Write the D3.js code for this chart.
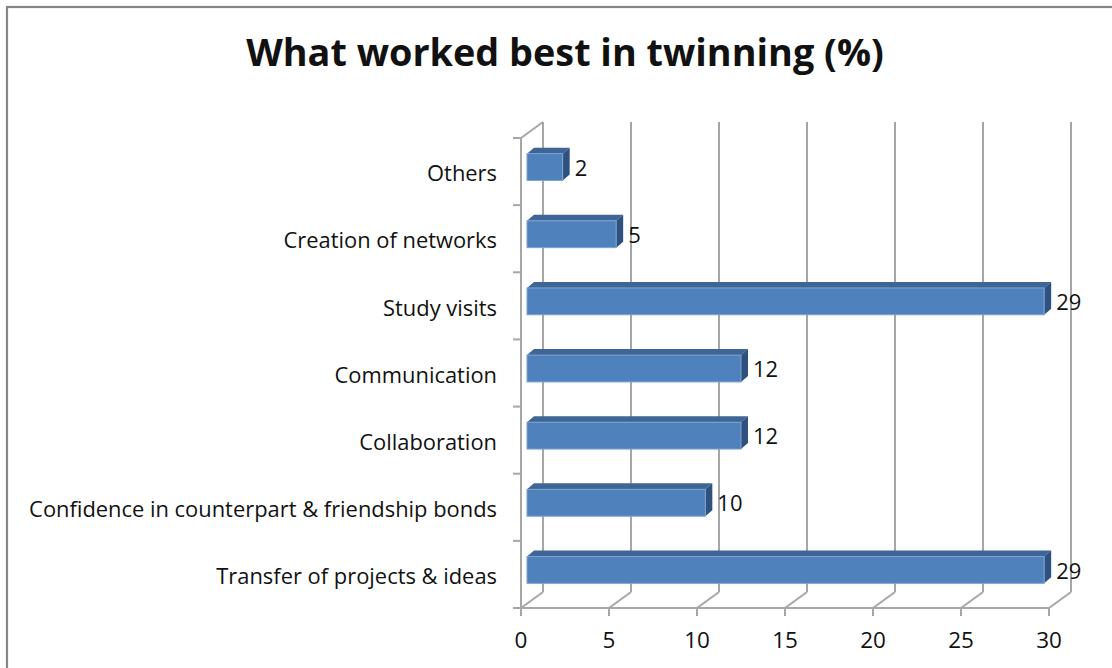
<!DOCTYPE html>
<html>
<head>
<meta charset="utf-8">
<script src="https://cdn.jsdelivr.net/npm/d3@7"></script>
<style>
  html, body { margin: 0; padding: 0; background: #fff; }
  svg { display: block; }
  text { font-family: "Open Sans", "DejaVu Sans", sans-serif; fill: #111; }
</style>
</head>
<body>
<svg id="chart" width="1112" height="668"></svg>
<script>
// Chart data: categories listed bottom to top, as shown on the axis
const categories = [
  "Transfer of projects & ideas",
  "Confidence in counterpart & friendship bonds",
  "Collaboration",
  "Communication",
  "Study visits",
  "Creation of networks",
  "Others"
];
const values = [29, 10, 12, 12, 29, 5, 2];
const tickValues = [0, 5, 10, 15, 20, 25, 30];
const title = "What worked best in twinning (%)";

const svg = d3.select("#chart");

// outer frame
svg.append("rect")
  .attr("x", 7).attr("y", 7)
  .attr("width", 1130).attr("height", 700)
  .attr("fill", "#fff")
  .attr("stroke", "#868686")
  .attr("stroke-width", 2.2);

// title
svg.append("text")
  .attr("x", 565).attr("y", 66)
  .attr("text-anchor", "middle")
  .style("font-size", "37.8px")
  .style("font-weight", "700")
  .text(title);

// 3D plot geometry: front plane and depth offset to the back wall
const plotTop = 138, plotBottom = 608;
const depth = { dx: 22, dy: -16 };

const x = d3.scaleLinear().domain([0, 30]).range([521, 1049]);
const y = d3.scaleBand().domain(categories).range([plotBottom, plotTop]);
// bars sit a little behind the front plane, so their length runs on a shifted scale
const xBar = d3.scaleLinear().domain([0, 30]).range([527, 1062]);
const barShift = { dx: 6, dy: -4.5 };
const barDepth = { dx: 7, dy: -6 };
const barThick = y.bandwidth() * 0.4;

const grid = svg.append("g")
  .attr("stroke", "#a6a6a6")
  .attr("stroke-width", 2)
  .attr("fill", "none");

// back-wall vertical gridlines
tickValues.forEach(t => {
  const bx = x(t) + depth.dx;
  grid.append("line")
    .attr("x1", bx).attr("x2", bx)
    .attr("y1", plotTop + depth.dy).attr("y2", plotBottom + depth.dy);
  // floor diagonals
  grid.append("line")
    .attr("x1", x(t)).attr("y1", plotBottom)
    .attr("x2", bx).attr("y2", plotBottom + depth.dy);
});

// left wall: axis line, top diagonal
grid.append("line")
  .attr("x1", x(0)).attr("x2", x(0))
  .attr("y1", plotTop).attr("y2", plotBottom);
grid.append("line")
  .attr("x1", x(0)).attr("y1", plotTop)
  .attr("x2", x(0) + depth.dx).attr("y2", plotTop + depth.dy);

// category tick marks on the left axis
const bounds = categories.map(c => y(c)).concat([plotBottom]);
bounds.forEach(b => {
  grid.append("line")
    .attr("x1", x(0) - 8).attr("x2", x(0))
    .attr("y1", b).attr("y2", b);
});

// bottom value axis
grid.append("line")
  .attr("x1", x(0)).attr("x2", x(30))
  .attr("y1", plotBottom).attr("y2", plotBottom);
tickValues.forEach(t => {
  grid.append("line")
    .attr("x1", x(t)).attr("x2", x(t))
    .attr("y1", plotBottom).attr("y2", plotBottom + 8);
});

svg.append("g").selectAll("text")
  .data(tickValues)
  .join("text")
  .attr("x", d => x(d))
  .attr("y", 648)
  .attr("text-anchor", "middle")
  .style("font-size", "22.5px")
  .text(d => d);

// category labels
svg.append("g").selectAll("text")
  .data(categories)
  .join("text")
  .attr("x", 497)
  .attr("y", d => y(d) + y.bandwidth() / 2 + 2)
  .attr("dy", "0.35em")
  .attr("text-anchor", "end")
  .style("font-size", "21.9px")
  .text(d => d);

// 3D bars: front face, top face, right side
const data = categories.map((c, i) => ({ cat: c, value: values[i] }));
const bars = svg.append("g").selectAll("g")
  .data(data)
  .join("g");

const geom = d => {
  const x0 = xBar(0), x1 = xBar(d.value);
  const yc = y(d.cat) + y.bandwidth() / 2 + barShift.dy;
  return { x0, x1, y0: yc - barThick / 2, y1: yc + barThick / 2 };
};

bars.append("path")
  .attr("fill", "#3d6595")
  .attr("d", d => {
    const g = geom(d);
    return `M${g.x0},${g.y0}L${g.x0 + barDepth.dx},${g.y0 + barDepth.dy}` +
           `L${g.x1 + barDepth.dx},${g.y0 + barDepth.dy}L${g.x1},${g.y0}Z`;
  });

bars.append("path")
  .attr("fill", "#2f5180")
  .attr("d", d => {
    const g = geom(d);
    return `M${g.x1},${g.y0}L${g.x1 + barDepth.dx},${g.y0 + barDepth.dy}` +
           `L${g.x1 + barDepth.dx},${g.y1 + barDepth.dy}L${g.x1},${g.y1}Z`;
  });

bars.append("rect")
  .attr("fill", "#4f81bd")
  .attr("stroke", "#7fa3d0")
  .attr("stroke-width", 1)
  .attr("x", d => geom(d).x0)
  .attr("y", d => geom(d).y0)
  .attr("width", d => geom(d).x1 - geom(d).x0)
  .attr("height", barThick);

// value labels
bars.append("text")
  .attr("x", d => geom(d).x1 + barDepth.dx + 5)
  .attr("y", d => (geom(d).y0 + geom(d).y1) / 2 + 1)
  .attr("dy", "0.35em")
  .style("font-size", "22px")
  .text(d => d.value);
</script>
</body>
</html>
